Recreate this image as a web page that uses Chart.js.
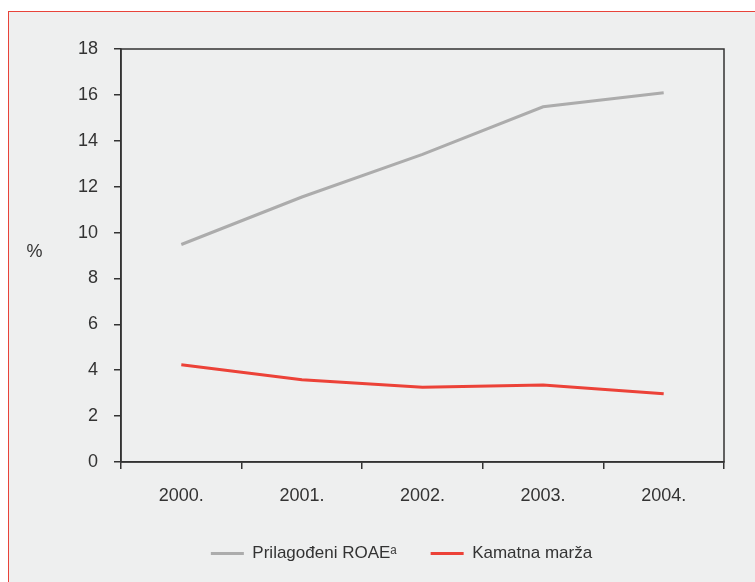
<!DOCTYPE html>
<html>
<head>
<meta charset="utf-8">
<script src="https://cdn.jsdelivr.net/npm/chart.js@4.4.0/dist/chart.umd.min.js"></script>
<style>
  html, body { margin: 0; padding: 0; background: #ffffff; overflow: hidden; }
  #frame {
    position: absolute; left: 8px; top: 11px; width: 760px; height: 600px;
    border-left: 1px solid #e8433a; border-top: 1px solid #e8433a;
    background: #eeefef; overflow: hidden;
  }
  #wrap { position: absolute; left: 0; top: 0; width: 746px; height: 560px; }
</style>
</head>
<body>
<div id="frame"><div id="wrap"><canvas id="lineChart"></canvas></div></div>
<script>
var years = ["2000.", "2001.", "2002.", "2003.", "2004."];
var roae = [9.48, 11.55, 13.41, 15.48, 16.09];
var kamatnaMarza = [4.24, 3.58, 3.26, 3.36, 2.97];
var seriesNames = ["Prilagođeni ROAE\u1D43", "Kamatna marža"];
var seriesColors = ["#acacac", "#ec4238"];
var yUnit = "%";

var FONT = "'Liberation Sans', Arial, sans-serif";
var INK = "#333333";

// frame round the plot and the "%" label on the left
var framePlugin = {
    id: 'framePlugin',
    afterDraw: function(chart) {
        var a = chart.chartArea, c = chart.ctx;
        c.save();
        c.strokeStyle = INK;
        c.lineWidth = 1.5;
        c.strokeRect(a.left, a.top, a.right - a.left, a.bottom - a.top);
        c.fillStyle = INK;
        c.font = "18px " + FONT;
        c.textAlign = 'center';
        c.textBaseline = 'middle';
        c.fillText(yUnit, 25.5, (a.top + a.bottom) / 2 - 3);
        c.restore();
    }
};

var ctxL = document.getElementById("lineChart").getContext('2d');

var myLineChart = new Chart(ctxL, {
    type: 'line',
    data: {
        labels: years,
        datasets: [{
            label: seriesNames[0],
            data: roae,
            borderColor: seriesColors[0],
            backgroundColor: seriesColors[0],
            borderWidth: 3,
            pointRadius: 0,
            tension: 0
        },
        {
            label: seriesNames[1],
            data: kamatnaMarza,
            borderColor: seriesColors[1],
            backgroundColor: seriesColors[1],
            borderWidth: 3,
            pointRadius: 0,
            tension: 0
        }]
    },
    options: {
        responsive: true,
        maintainAspectRatio: false,
        animation: false,
        layout: { padding: { left: 70, right: 31, top: 37, bottom: 0 } },
        plugins: {
            tooltip: { enabled: false },
            legend: {
                position: 'bottom',
                labels: {
                    color: INK,
                    font: { family: FONT, size: 17 },
                    boxWidth: 33,
                    boxHeight: 3,
                    padding: 34,
                    generateLabels: function(chart) {
                        return chart.data.datasets.map(function(ds, i) {
                            return {
                                text: ds.label,
                                fillStyle: ds.borderColor,
                                strokeStyle: ds.borderColor,
                                lineWidth: 0,
                                fontColor: INK,
                                datasetIndex: i
                            };
                        });
                    }
                }
            }
        },
        scales: {
            x: {
                offset: true,
                grid: { offset: true, drawOnChartArea: false, drawTicks: true, tickLength: 7, color: INK, lineWidth: 1.5 },
                border: { display: true, color: INK, width: 1.5 },
                ticks: { color: INK, font: { family: FONT, size: 18 }, padding: 16, maxRotation: 0 },
                afterFit: function(scale) { scale.height = 49; }
            },
            y: {
                min: 0,
                max: 18,
                ticks: { stepSize: 2, color: INK, font: { family: FONT, size: 18 }, padding: 16 },
                grid: { drawOnChartArea: false, drawTicks: true, tickLength: 7, color: INK, lineWidth: 1.5 },
                border: { display: true, color: INK, width: 1.5 },
                afterFit: function(scale) { scale.width = 42; }
            }
        }
    },
    plugins: [framePlugin]
});
</script>
</body>
</html>
